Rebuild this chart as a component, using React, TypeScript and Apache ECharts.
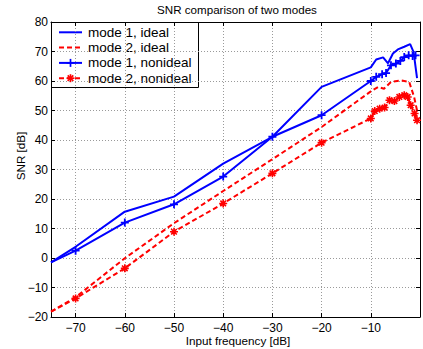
import React, { useEffect, useRef } from 'react';
import * as echarts from 'echarts';

const titleText = 'SNR comparison of two modes';
const xName = 'Input frequency [dB]';
const yName = 'SNR [dB]';
const seriesNames = ['mode 1, ideal', 'mode 2, ideal', 'mode 1, nonideal', 'mode 2, nonideal'];

const mode1IdealX = [-75, -70, -60, -50, -40, -30, -20, -10, -8.9, -7.5, -6.5, -5.5, -4.5, -3.2, -2, -1.3, -0.6];
const mode1IdealY = [-1.5, 3.8, 15.7, 20.8, 32, 41.1, 58, 64.6, 67.3, 68, 66, 69.3, 70.7, 71.6, 72.5, 69.8, 61];

const mode2IdealX = [-75, -70, -60, -50, -40, -30, -20, -10, -8.5, -7.3, -5.9, -3.9, -2.2, -1.2, -0.6];
const mode2IdealY = [-18.2, -13.3, -0.1, 11.8, 22.7, 33.5, 44.4, 56.5, 58, 57.4, 59.7, 60.2, 59.7, 54.6, 50];

const mode1NonX = [-75, -70, -60, -50, -40, -30, -20, -10, -8.9, -7.7, -6.9, -5.9, -4.9, -4, -3.2, -2.3, -1.5, -0.9];
const mode1NonY = [-1.5, 2.5, 12, 18.2, 27.6, 41.1, 48.4, 60, 61.4, 62.3, 62.7, 65.3, 65.9, 66.8, 68.1, 68.7, 68.5, 68.7];

const mode2NonX = [-75, -70, -60, -50, -40, -30, -20, -10, -9.2, -8.2, -7.2, -6.2, -5.2, -4.2, -3.2, -2.5, -1.9, -1.1, -0.6];
const mode2NonY = [-18.2, -13.7, -3.5, 8.9, 18.5, 28.7, 39.1, 47.3, 49.8, 50.6, 51, 53.5, 53.2, 54.6, 55.2, 54.6, 51.8, 49, 46.7];

const FONT = 'Liberation Sans, Arial, Helvetica, sans-serif';
const PLUS = 'path://M0,4L8,4M4,0L4,8';
const STAR = 'path://M0,4L8,4M4,0L4,8M1.2,1.2L6.8,6.8M6.8,1.2L1.2,6.8';
const BLUE = '#0000ff';
const RED = '#ff0000';

function pts(xs: number[], ys: number[], hideFirst: boolean) {
  return xs.map((x, i) =>
    hideFirst && i === 0 ? { value: [x, ys[i]], symbol: 'none' } : { value: [x, ys[i]] }
  );
}

const fmt = (v: number) => (v < 0 ? '\u2212' + Math.abs(v) : String(v));

function legendGraphic() {
  const left = 51;
  const top = 22;
  const rowY = [32.3, 47.6, 62.9, 78.2];
  const colors = [BLUE, RED, BLUE, RED];
  const dashed = [false, true, false, true];
  const marker = ['none', 'none', 'plus', 'star'];
  const children: any[] = [
    {
      type: 'rect',
      shape: { x: left + 0.5, y: top + 0.5, width: 147, height: 65 },
      style: { fill: '#fff', stroke: '#000', lineWidth: 1 },
    },
  ];
  rowY.forEach((y, i) => {
    children.push({
      type: 'line',
      shape: { x1: 59, y1: y, x2: 82, y2: y },
      style: { stroke: colors[i], lineWidth: 2, lineDash: dashed[i] ? [5, 3] : null },
    });
    const cx = 70.5;
    const r = 4;
    const segs: number[][] = [];
    if (marker[i] === 'plus' || marker[i] === 'star') {
      segs.push([cx - r, y, cx + r, y], [cx, y - r, cx, y + r]);
    }
    if (marker[i] === 'star') {
      const d = r * 0.7;
      segs.push([cx - d, y - d, cx + d, y + d], [cx + d, y - d, cx - d, y + d]);
    }
    segs.forEach((s) =>
      children.push({
        type: 'line',
        shape: { x1: s[0], y1: s[1], x2: s[2], y2: s[3] },
        style: { stroke: colors[i], lineWidth: 1.7 },
      })
    );
    children.push({
      type: 'text',
      x: 88,
      y: y,
      style: {
        text: seriesNames[i],
        fill: '#000',
        font: `13.5px ${FONT}`,
        align: 'left',
        verticalAlign: 'middle',
      },
    });
  });
  return { type: 'group', z: 100, children };
}

export default function App() {
  const ref = useRef<HTMLDivElement>(null);
  useEffect(() => {
    const chart = echarts.init(ref.current!, null, { renderer: 'svg' });
    const axisLine = { show: true, onZero: false, lineStyle: { color: '#000', width: 1 } };
    const splitLine = { show: true, lineStyle: { color: '#9a9a9a', width: 1, type: [1, 2] as any } };
    chart.setOption({
      animation: false,
      backgroundColor: '#fff',
      textStyle: { fontFamily: FONT },
      grid: { left: 51, right: -3, top: 22, bottom: 32, containLabel: false },
      xAxis: [
        {
          type: 'value',
          min: -75,
          max: 0,
          splitNumber: 8,
          minInterval: 10,
          maxInterval: 10,
          axisLine,
          axisTick: { show: true, inside: true, length: 4, lineStyle: { color: '#000' } },
          axisLabel: {
            color: '#000',
            fontSize: 12,
            fontFamily: FONT,
            margin: 5,
            formatter: (v: number) => (v % 10 !== 0 || v === 0 ? '' : fmt(v)),
          },
          splitLine,
        },
        {
          type: 'value',
          position: 'top',
          min: -75,
          max: 0,
          splitNumber: 8,
          minInterval: 10,
          maxInterval: 10,
          axisLine,
          axisTick: { show: true, inside: true, length: 4, lineStyle: { color: '#000' } },
          axisLabel: { show: false },
          splitLine: { show: false },
        },
      ],
      yAxis: [
        {
          type: 'value',
          min: -20,
          max: 80,
          interval: 10,
          axisLine,
          axisTick: { show: true, inside: true, length: 4, lineStyle: { color: '#000' } },
          axisLabel: { color: '#000', fontSize: 12, fontFamily: FONT, margin: 3, formatter: fmt },
          splitLine,
        },
        {
          type: 'value',
          position: 'right',
          min: -20,
          max: 80,
          interval: 10,
          axisLine,
          axisTick: { show: true, inside: true, length: 4 },
          axisLabel: { show: false },
          splitLine: { show: false },
        },
      ],
      series: [
        {
          name: seriesNames[0],
          type: 'line',
          data: pts(mode1IdealX, mode1IdealY, false),
          symbol: 'none',
          lineStyle: { color: BLUE, width: 2 },
          itemStyle: { color: BLUE },
          emphasis: { disabled: true },
          z: 3,
        },
        {
          name: seriesNames[1],
          type: 'line',
          data: pts(mode2IdealX, mode2IdealY, false),
          symbol: 'none',
          lineStyle: { color: RED, width: 2, type: [5, 3] as any },
          itemStyle: { color: RED },
          emphasis: { disabled: true },
          z: 3,
        },
        {
          name: seriesNames[2],
          type: 'line',
          data: pts(mode1NonX, mode1NonY, true),
          symbol: PLUS,
          symbolSize: 8,
          showAllSymbol: true,
          lineStyle: { color: BLUE, width: 2 },
          itemStyle: { color: BLUE, borderColor: BLUE, borderWidth: 1.8 },
          emphasis: { disabled: true },
          z: 4,
        },
        {
          name: seriesNames[3],
          type: 'line',
          data: pts(mode2NonX, mode2NonY, true),
          symbol: STAR,
          symbolSize: 8,
          showAllSymbol: true,
          lineStyle: { color: RED, width: 2, type: [5, 3] as any },
          itemStyle: { color: RED, borderColor: RED, borderWidth: 1.6 },
          emphasis: { disabled: true },
          z: 4,
        },
      ],
      graphic: [
        {
          type: 'text',
          x: 237,
          y: 9,
          style: { text: titleText, fill: '#000', font: `11.6px ${FONT}`, align: 'center', verticalAlign: 'middle' },
        },
        {
          type: 'text',
          x: 238,
          y: 340,
          style: { text: xName, fill: '#000', font: `11.7px ${FONT}`, align: 'center', verticalAlign: 'middle' },
        },
        {
          type: 'text',
          x: 20,
          y: 156,
          rotation: Math.PI / 2,
          style: { text: yName, fill: '#000', font: `11.7px ${FONT}`, align: 'center', verticalAlign: 'middle' },
        },
        legendGraphic(),
      ],
    });
    return () => chart.dispose();
  }, []);
  return (
    <div
      ref={ref}
      style={{ position: 'fixed', left: 0, top: 0, width: 423, height: 349, background: '#fff' }}
    />
  );
}
